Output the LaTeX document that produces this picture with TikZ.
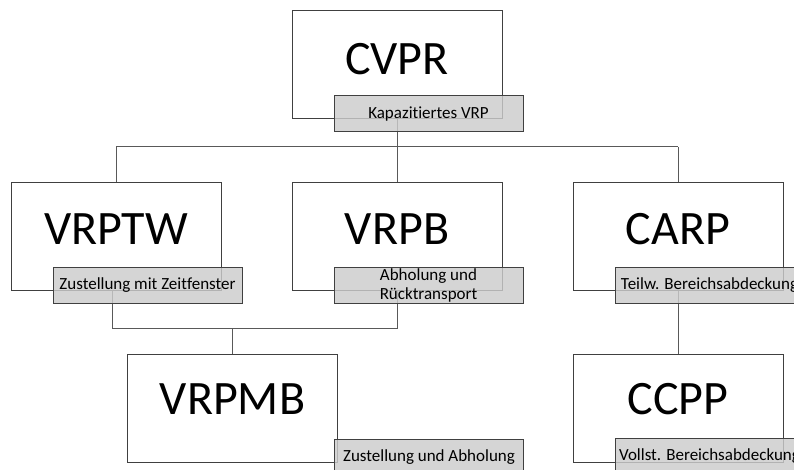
\documentclass[tikz,border=0pt]{standalone}
\usepackage{fontspec}
\setmainfont{Carlito}[Ligatures=CommonOff]
\begin{document}
\begin{tikzpicture}[x=1pt,y=-1pt,
  probbox/.style={draw=black!75,line width=1pt,fill=white,minimum width=210pt,minimum height=108pt,inner sep=0pt},
  probtitle/.style={anchor=base,font=\fontsize{48}{50}\selectfont,inner sep=0pt},
  tagbox/.style={draw=black!75,line width=1pt,fill=black!20,fill opacity=0.82,text opacity=1,
    minimum width=189pt,minimum height=36pt,inner sep=0pt,align=center,
    font=\fontsize{17}{19}\selectfont},
  link/.style={draw=black!65,line width=1pt}]
\clip (0,0) rectangle (794,470);
\fill[white] (0,0) rectangle (794,470);

% problem boxes
\node[probbox] (cvpr)  at (397,65) {};
\node[probbox] (vrptw) at (116,236.5) {};
\node[probbox] (vrpb)  at (397,236.5) {};
\node[probbox] (carp)  at (678,236.5) {};
\node[probbox] (vrpmb) at (232.5,408.5) {};
\node[probbox] (ccpp)  at (678,408.5) {};

% titles
\node[probtitle] (tcvpr)  at (397,75) {CVPR};
\node[probtitle] (tvrptw) at (116,244) {VRPTW};
\node[probtitle] (tvrpb)  at (397,244) {VRPB};
\node[probtitle] (tcarp)  at (678,244) {CARP};
\node[probtitle] (tvrpmb) at (232.5,414) {VRPMB};
\node[probtitle] (tccpp)  at (678,414) {CCPP};

% branch points of the tree
\coordinate (hub)  at (397,147);
\coordinate (hl)   at (116,147);
\coordinate (hr)   at (678,147);
\coordinate (jl)   at (112,328);
\coordinate (jr)   at (397.5,328);
\coordinate (jm)   at (232.5,328);

% connectors (drawn below the translucent tags)
\draw[link] (cvpr.south) -- (hub);
\draw[link] (hl) -- (hr);
\draw[link] (hl) -- (vrptw.north);
\draw[link] (hub) -- (vrpb.north);
\draw[link] (hr) -- (carp.north);
\draw[link] (vrptw.south -| jl) -- (jl) -- (jr) -- (vrpb.south -| jr);
\draw[link] (jm) -- (vrpmb.north);
\draw[link] (carp.south) -- (ccpp.north);

% subtitle tags
\node[tagbox] (gcvpr)  at (428.5,114) {Kapazitiertes VRP};
\node[tagbox] (gvrptw) at (147.5,285.5) {Zustellung mit Zeitfenster};
\node[tagbox] (gvrpb) at (428.5,285.5) {Abholung und\\Rücktransport};
\node[tagbox] (gcarp)  at (709.5,285) {Teilw. Bereichsabdeckung};
\node[tagbox] (gvrpmb) at (429,457) {Zustellung und Abholung};
\node[tagbox] (gccpp)  at (709.5,456) {Vollst. Bereichsabdeckung};
\end{tikzpicture}
\end{document}
